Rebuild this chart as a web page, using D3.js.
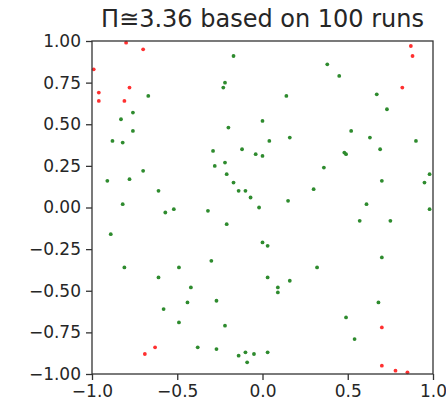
<!DOCTYPE html>
<html>
  <head>
    <meta charset="utf-8">
    <script src="https://d3js.org/d3.v7.min.js"></script>
    <style>
      body { margin: 0; background: white; }
      text { font-family: "DejaVu Sans", sans-serif; fill: #262626; }
    </style>
  </head>
  <body>
    <script type="text/javascript">

    // points that fell inside the unit circle (green)
    var insideX = [-0.17, -0.67, -0.22, -0.23, -0.76, -0.83, -0.20, -0.76, -0.88, -0.82,
                   -0.29, -0.12, -0.04, 0.00, 0.38, 0.45, 0.14, 0.67, 0.73, 0.52,
                   0.04, 0.16, 0.63, 0.90, 0.69, 0.48, 0.49, 0.00, -0.22, -0.28,
                   -0.70, -0.91, -0.78, -0.21, -0.17, -0.14, -0.10, -0.07, -0.61, -0.02,
                   -0.82, -0.57, -0.52, -0.32, -0.21, -0.89, 0.00, -0.30, 0.36, 0.30,
                   0.70, 0.95, 0.98, 0.15, 0.61, 0.57, 0.75, 0.98, 0.03, 0.70,
                   -0.81, -0.49, -0.61, -0.42, -0.44, -0.27, -0.58, -0.49, -0.22, -0.38,
                   -0.27, -0.14, -0.10, -0.09, -0.05, 0.03, 0.16, 0.32, 0.09, 0.09,
                   0.68, 0.49, 0.54, 0.03];
    var insideY = [0.91, 0.67, 0.75, 0.72, 0.57, 0.53, 0.48, 0.46, 0.40, 0.39,
                   0.34, 0.35, 0.32, 0.52, 0.86, 0.79, 0.67, 0.68, 0.59, 0.46,
                   0.40, 0.42, 0.42, 0.40, 0.35, 0.33, 0.32, 0.31, 0.27, 0.25,
                   0.22, 0.16, 0.17, 0.20, 0.15, 0.10, 0.10, 0.06, 0.10, 0.00,
                   0.02, -0.03, -0.01, -0.02, -0.10, -0.16, -0.21, -0.32, 0.24, 0.11,
                   0.16, 0.15, 0.20, 0.04, 0.02, -0.08, -0.08, -0.01, -0.23, -0.30,
                   -0.36, -0.36, -0.42, -0.48, -0.57, -0.56, -0.61, -0.69, -0.71, -0.84,
                   -0.85, -0.89, -0.87, -0.93, -0.88, -0.42, -0.44, -0.36, -0.48, -0.51,
                   -0.57, -0.66, -0.79, -0.87];

    // points that fell outside (red)
    var outsideX = [-0.80, -0.70, -0.99, -0.96, -0.78, -0.96, -0.81, 0.87,
                    0.88, 0.82, -0.69, -0.63, 0.70, 0.70, 0.78, 0.85];
    var outsideY = [0.99, 0.95, 0.83, 0.69, 0.72, 0.64, 0.64, 0.97,
                    0.91, 0.72, -0.88, -0.84, -0.72, -0.95, -0.98, -0.99];

    var xTicks = [-1.0, -0.5, 0.0, 0.5, 1.0];
    var yTicks = [-1.0, -0.75, -0.5, -0.25, 0.0, 0.25, 0.5, 0.75, 1.0];
    var title = "\u03a0\u22453.36 based on 100 runs";

    var width = 446, height = 410;
    var margin = {left: 92, right: 13, top: 41, bottom: 36};

    var svg = d3.select("body")
      .append("svg")
        .attr("width", width)
        .attr("height", height);

    var x = d3.scaleLinear().domain([-1, 1]).range([margin.left, width - margin.right]);
    var y = d3.scaleLinear().domain([-1, 1]).range([height - margin.bottom, margin.top]);

    var inside = insideX.map(function(d, i) { return {x: d, y: insideY[i]}; });
    var outside = outsideX.map(function(d, i) { return {x: d, y: outsideY[i]}; });

    svg.append("g").selectAll("circle")
      .data(inside)
      .enter()
      .append("circle")
        .attr("cx", function(d) { return x(d.x); })
        .attr("cy", function(d) { return y(d.y); })
        .attr("r", 1.9)
        .style("fill", "#2e8b2e");

    svg.append("g").selectAll("circle")
      .data(outside)
      .enter()
      .append("circle")
        .attr("cx", function(d) { return x(d.x); })
        .attr("cy", function(d) { return y(d.y); })
        .attr("r", 1.9)
        .style("fill", "#ff3030");

    // axes, matplotlib style
    var xAxis = svg.append("g")
      .attr("transform", "translate(0," + (height - margin.bottom) + ")")
      .call(d3.axisBottom(x).tickValues(xTicks).tickFormat(d3.format(".1f"))
            .tickSize(6).tickPadding(5));
    var yAxis = svg.append("g")
      .attr("transform", "translate(" + margin.left + ",0)")
      .call(d3.axisLeft(y).tickValues(yTicks).tickFormat(d3.format(".2f"))
            .tickSize(6).tickPadding(5));

    [xAxis, yAxis].forEach(function(a) {
      a.select(".domain").remove();
      a.selectAll("line").attr("stroke", "#333").attr("stroke-width", 1.3);
      a.selectAll("text").style("font-size", "17px").style("fill", "#262626");
    });

    // frame
    svg.append("rect")
      .attr("x", x(-1))
      .attr("y", y(1))
      .attr("width", x(1) - x(-1))
      .attr("height", y(-1) - y(1))
      .style("fill", "none")
      .style("stroke", "#333")
      .style("stroke-width", 1.3);

    svg.append("text")
      .attr("x", (x(-1) + x(1)) / 2)
      .attr("y", 27)
      .attr("text-anchor", "middle")
      .style("font-size", "24px")
      .text(title);

    </script>
  </body>
</html>
